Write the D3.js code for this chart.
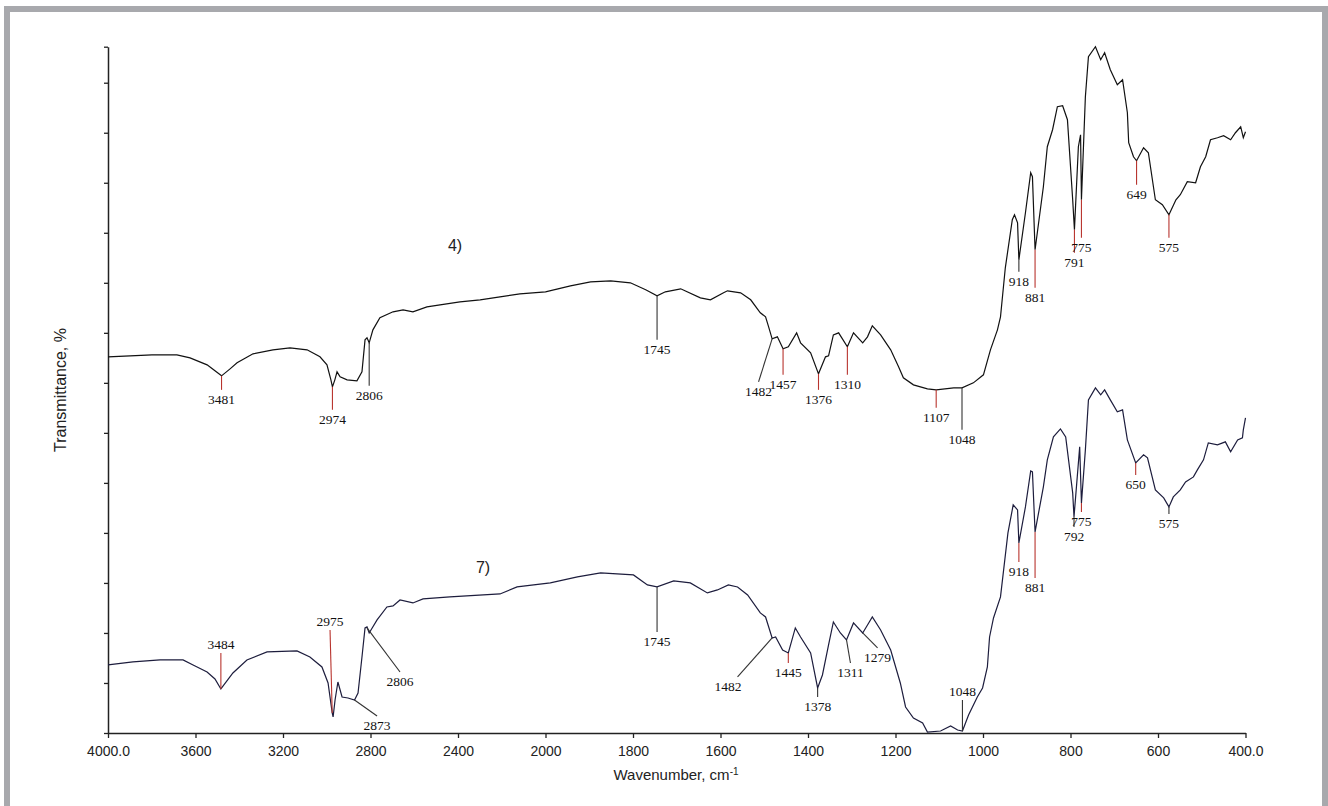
<!DOCTYPE html>
<html>
<head>
<meta charset="utf-8">
<script src="https://cdn.jsdelivr.net/npm/d3@7"></script>
<style>
  html, body { margin: 0; padding: 0; background: #fff; }
  svg { display: block; }
</style>
</head>
<body>
<div id="chart"></div>
<script>
// wavenumber (cm-1), transmittance (arb. %)
const spectrum4 = [
  [4000,37.6],[3899,37.7],[3799,37.8],[3685,37.8],[3625,37.5],[3547,36.8],[3511,36.2],[3481,35.7],
  [3442,36.4],[3410,37.0],[3337,37.9],[3246,38.3],[3168,38.5],[3090,38.3],[3031,37.6],[2999,36.8],
  [2981,35.3],[2974,34.6],[2963,35.3],[2953,36.1],[2939,35.6],[2907,35.3],[2862,35.2],[2839,36.1],
  [2825,39.3],[2816,39.5],[2806,39.0],[2789,40.3],[2757,41.5],[2697,42.1],[2651,42.3],[2606,42.1],
  [2542,42.6],[2482,42.8],[2391,43.1],[2299,43.3],[2208,43.6],[2117,43.9],[2000,44.1],[1943,44.7],
  [1897,45.1],[1851,45.2],[1806,45.0],[1771,44.3],[1745,43.7],[1726,44.1],[1691,44.4],[1646,43.5],
  [1623,43.3],[1593,44.0],[1584,44.2],[1554,44.0],[1531,43.3],[1509,42.0],[1497,41.6],[1490,40.6],
  [1482,39.4],[1470,39.6],[1457,38.4],[1445,38.6],[1426,40.0],[1417,39.0],[1394,38.0],[1376,35.9],
  [1360,37.6],[1353,37.7],[1342,39.8],[1330,40.0],[1310,38.6],[1296,40.0],[1275,39.0],[1264,39.6],
  [1253,40.7],[1234,39.8],[1211,38.3],[1193,36.6],[1182,35.5],[1159,34.8],[1127,34.4],[1107,34.3],
  [1067,34.5],[1048,34.5],[1022,35.0],[999,35.8],[983,38.3],[967,40.3],[960,41.6],[949,46.5],
  [933,51.3],[928,51.8],[921,51.0],[918,47.3],[903,52.0],[891,56.0],[887,55.6],[881,48.3],
  [862,54.6],[853,58.6],[841,60.3],[830,62.6],[818,62.7],[807,61.3],[795,53.3],[791,50.3],
  [782,58.6],[777,59.8],[775,53.3],[766,63.6],[759,67.6],[743,68.6],[731,67.3],[722,68.0],
  [709,66.3],[693,64.8],[681,65.3],[670,62.0],[667,59.0],[656,57.6],[649,57.2],[633,58.5],
  [622,58.0],[606,53.3],[590,52.8],[575,51.8],[559,53.3],[549,53.8],[533,55.1],[514,55.0],
  [503,56.6],[491,57.6],[480,59.3],[464,59.5],[450,59.7],[434,59.3],[423,60.0],[411,60.6],
  [405,59.5],[400,60.1]
];

const spectrum7 = [
  [4000,6.8],[3886,7.1],[3762,7.3],[3657,7.3],[3611,6.8],[3547,6.1],[3511,5.4],[3484,4.4],
  [3429,6.0],[3365,7.3],[3273,8.1],[3136,8.2],[3077,7.6],[3022,6.6],[2994,5.0],[2975,2.0],
  [2971,1.6],[2962,3.3],[2949,5.1],[2930,3.6],[2903,3.5],[2873,3.3],[2857,4.0],[2839,7.6],
  [2825,10.5],[2816,10.6],[2806,10.0],[2770,11.3],[2725,12.6],[2697,12.7],[2665,13.3],[2606,13.0],
  [2560,13.4],[2437,13.6],[2208,13.9],[2130,14.6],[1989,15.0],[1927,15.6],[1874,16.0],[1799,15.8],
  [1767,14.8],[1745,14.6],[1707,15.2],[1669,15.0],[1630,14.0],[1607,14.3],[1582,14.8],[1561,14.6],
  [1538,13.8],[1509,12.0],[1497,11.6],[1482,9.5],[1474,9.6],[1458,8.3],[1445,8.0],[1429,10.5],
  [1417,9.6],[1394,8.0],[1378,4.5],[1367,5.8],[1353,8.8],[1342,11.1],[1326,10.0],[1312,9.3],
  [1296,11.0],[1275,10.0],[1264,10.8],[1253,11.6],[1234,10.3],[1211,8.3],[1189,5.0],[1177,2.6],
  [1159,1.5],[1138,1.0],[1127,0.1],[1097,0.2],[1074,0.7],[1058,0.3],[1047,0.2],[1033,1.8],
  [1013,3.6],[1001,4.5],[990,6.6],[985,9.6],[976,11.5],[960,13.6],[943,20.0],[931,22.8],
  [921,22.3],[918,19.0],[903,22.6],[891,26.2],[887,26.1],[881,20.1],[862,24.6],[853,27.3],
  [839,29.6],[823,30.4],[811,29.6],[795,24.0],[792,21.6],[779,28.6],[775,23.0],[766,28.3],
  [759,33.3],[743,34.5],[731,33.8],[722,34.3],[709,33.3],[693,32.1],[681,32.3],[670,29.3],
  [651,27.0],[633,27.8],[624,27.5],[606,24.3],[587,23.5],[575,22.6],[565,23.6],[549,24.3],
  [537,25.1],[519,25.6],[510,26.3],[496,27.3],[485,29.0],[464,28.8],[446,29.1],[434,28.1],
  [418,29.3],[407,29.5],[405,30.3],[400,31.5]
];

// peak marks: label, tip (wn, T), line end (wn, T), red marker?, label above?
const peaks4 = [
  ["3481",3481,35.7,3481,34.3,1,0],["2974",2974,34.6,2974,32.3,1,0],["2806",2806,39.0,2806,34.7,0,0],
  ["1745",1745,43.7,1745,39.3,0,0],["1482",1482,39.4,1513,35.1,0,0],["1457",1457,38.4,1457,35.8,1,0],
  ["1376",1376,35.9,1376,34.3,1,0],["1310",1310,38.6,1310,35.8,1,0],["1107",1107,34.3,1107,32.5,1,0],
  ["1048",1048,34.5,1048,30.3,0,0],["918",918,47.3,918,46.1,0,0],["881",881,48.3,881,44.5,1,0],
  ["791",791,50.3,791,48.0,1,0],["775",775,53.3,775,49.5,1,0],["649",649,57.2,649,54.8,1,0],
  ["575",575,51.8,575,49.5,1,0]
];
const peaks7 = [
  ["3484",3484,4.4,3484,8.0,1,1],["2975",2975,2.0,2985,10.3,1,1],["2806",2816,10.5,2665,6.1,0,0],
  ["2873",2873,3.3,2770,1.7,0,0],["1745",1745,14.6,1745,10.1,0,0],["1482",1482,9.5,1561,5.6,0,0],
  ["1445",1445,8.0,1445,7.0,1,0],["1378",1378,4.5,1378,3.6,0,0],["1311",1312,9.3,1303,7.0,0,0],
  ["1279",1275,10.0,1241,8.5,0,0],["1048",1047,0.2,1047,3.3,0,1],["918",918,19.0,918,17.1,1,0],
  ["881",881,20.1,881,15.5,1,0],["792",792,21.6,792,20.6,0,0],["775",775,23.0,775,22.1,1,0],
  ["650",651,27.0,651,25.8,1,0],["575",575,22.6,575,21.9,0,0]
];

const xTicks = [4000,3600,3200,2800,2400,2000,1800,1600,1400,1200,1000,800,600,400];
const yTicks = [0,5,10,15,20,25,30,35,40,45,50,55,60,65,68.6];

const W = 1328, H = 806;
const svg = d3.select("#chart").append("svg").attr("width", W).attr("height", H);

// grey frame
svg.append("rect")
  .attr("x", 7).attr("y", 9).attr("width", 1318).attr("height", 830)
  .attr("fill", "none").attr("stroke", "#a8a9ad").attr("stroke-width", 6);

// wavenumber axis changes scale at 2000
const x = d3.scaleLinear().domain([4000, 2000, 400]).range([108, 545.5, 1245.5]);
const y = d3.scaleLinear().domain([0, 68.6]).range([733, 46.7]);

const xAxis = d3.axisBottom(x)
  .tickValues(xTicks)
  .tickFormat(d => (d === 4000 || d === 400) ? d.toFixed(1) : d)
  .tickSize(5).tickSizeOuter(0);
const gx = svg.append("g").attr("transform", "translate(0,733)").call(xAxis);
gx.select(".domain").attr("stroke", "#222").attr("stroke-width", 1.5);
gx.selectAll(".tick line").attr("stroke", "#222").attr("stroke-width", 1.3);
gx.selectAll("text").attr("font-family", "Liberation Sans, Arial, sans-serif")
  .attr("font-size", 14).attr("fill", "#222").attr("dy", "1.05em");

const yAxis = d3.axisLeft(y).tickValues(yTicks).tickFormat("").tickSize(4).tickSizeOuter(0);
const gy = svg.append("g").attr("transform", "translate(108,0)").call(yAxis);
gy.select(".domain").attr("stroke", "#222").attr("stroke-width", 1.5);
gy.selectAll(".tick line").attr("stroke", "#222").attr("stroke-width", 1.3);

// axis titles
svg.append("text")
  .attr("transform", "translate(66,390) rotate(-90)")
  .attr("text-anchor", "middle")
  .attr("font-family", "Liberation Sans, Arial, sans-serif")
  .attr("font-size", 16).attr("fill", "#222")
  .text("Transmittance, %");

const xt = svg.append("text")
  .attr("x", 676).attr("y", 780)
  .attr("text-anchor", "middle")
  .attr("font-family", "Liberation Sans, Arial, sans-serif")
  .attr("font-size", 15).attr("fill", "#222");
xt.append("tspan").text("Wavenumber, cm");
xt.append("tspan").attr("font-size", 10).attr("dy", -5).text("-1");

// spectra
const line = d3.line().x(d => x(d[0])).y(d => y(d[1]));
svg.append("path").datum(spectrum4)
  .attr("d", line).attr("fill", "none").attr("stroke", "#111").attr("stroke-width", 1.2);
svg.append("path").datum(spectrum7)
  .attr("d", line).attr("fill", "none").attr("stroke", "#1d1d3d").attr("stroke-width", 1.2);

// curve names
svg.append("text").attr("x", 455).attr("y", 251).attr("text-anchor", "middle")
  .attr("font-family", "Liberation Sans, Arial, sans-serif").attr("font-size", 16).attr("fill", "#222")
  .text("4)");
svg.append("text").attr("x", 483).attr("y", 573).attr("text-anchor", "middle")
  .attr("font-family", "Liberation Sans, Arial, sans-serif").attr("font-size", 16).attr("fill", "#222")
  .text("7)");

// peak markers
function drawPeaks(peaks) {
  const g = svg.append("g");
  peaks.forEach(p => {
    const [lab, w0, t0, w1, t1, red, above] = p;
    g.append("line")
      .attr("x1", x(w0)).attr("y1", y(t0))
      .attr("x2", x(w1)).attr("y2", y(t1))
      .attr("stroke", red ? "#b8342e" : "#333")
      .attr("stroke-width", 1.1);
    const slantLeft = x(w1) < x(w0) - 15;
    g.append("text")
      .attr("x", slantLeft ? x(w1) + 4 : x(w1))
      .attr("y", above ? y(t1) - 4 : y(t1) + 14)
      .attr("text-anchor", slantLeft ? "end" : "middle")
      .attr("font-family", "Liberation Serif, Times New Roman, serif")
      .attr("font-size", 13.5).attr("fill", "#111")
      .text(lab);
  });
}
drawPeaks(peaks4);
drawPeaks(peaks7);
</script>
</body>
</html>
